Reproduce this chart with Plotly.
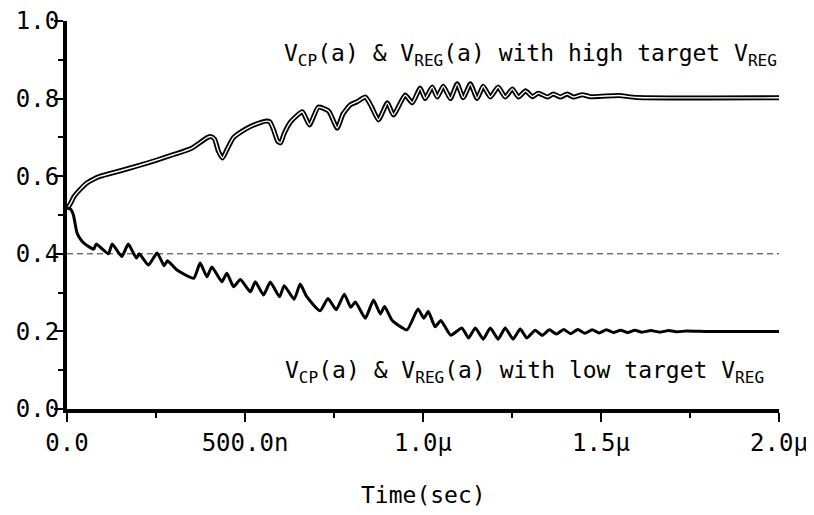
import plotly.graph_objects as go

# time in ns
t_high = [0, 10, 20, 37, 55, 74, 94, 150, 200, 250, 300, 350, 395, 405, 415, 425, 437, 450, 468, 490,
          515, 543, 560, 570, 580, 592, 600, 610, 628, 661, 681, 706, 735, 759, 775, 796, 815, 838, 855,
          875, 900, 917, 950, 970, 992, 1006, 1026, 1040, 1057, 1077, 1096, 1113, 1133, 1152, 1169, 1189,
          1211, 1231, 1251, 1268, 1288, 1307, 1324, 1350, 1366, 1386, 1405, 1422, 1447, 1470, 1500, 1550,
          1600, 2000]
v_high = [0.515, 0.530, 0.548, 0.566, 0.582, 0.592, 0.600, 0.614, 0.627, 0.641, 0.656, 0.672, 0.700, 0.702,
          0.695, 0.665, 0.647, 0.670, 0.700, 0.715, 0.728, 0.738, 0.742, 0.740, 0.720, 0.690, 0.686, 0.710,
          0.740, 0.766, 0.732, 0.778, 0.768, 0.724, 0.760, 0.784, 0.792, 0.804, 0.780, 0.745, 0.789, 0.758,
          0.809, 0.789, 0.827, 0.800, 0.830, 0.804, 0.832, 0.800, 0.838, 0.802, 0.838, 0.800, 0.832, 0.804,
          0.830, 0.804, 0.825, 0.804, 0.820, 0.805, 0.814, 0.804, 0.812, 0.804, 0.812, 0.804, 0.810, 0.805,
          0.806, 0.808, 0.803, 0.802]

t_low = [0, 10, 18, 28, 40, 51, 75, 82, 116, 127, 154, 172, 195, 203, 229, 253, 273, 282, 309, 356, 374,
         393, 407, 435, 449, 468, 487, 515, 529, 552, 571, 597, 610, 638, 655, 673, 711, 733, 756, 779, 797,
         810, 838, 861, 880, 892, 913, 955, 986, 1002, 1015, 1034, 1050, 1078, 1109, 1128, 1147, 1169, 1189,
         1211, 1231, 1253, 1273, 1292, 1315, 1335, 1355, 1375, 1395, 1415, 1435, 1455, 1475, 1495, 1515,
         1535, 1555, 1575, 1595, 1615, 1640, 1665, 1690, 1715, 1740, 1800, 2000]
v_low = [0.518, 0.515, 0.500, 0.454, 0.435, 0.425, 0.412, 0.425, 0.400, 0.425, 0.393, 0.425, 0.389, 0.400,
         0.371, 0.402, 0.369, 0.382, 0.358, 0.337, 0.376, 0.341, 0.366, 0.328, 0.350, 0.315, 0.334, 0.302,
         0.328, 0.294, 0.327, 0.289, 0.318, 0.283, 0.322, 0.290, 0.253, 0.285, 0.256, 0.296, 0.262, 0.276,
         0.234, 0.281, 0.245, 0.264, 0.229, 0.204, 0.258, 0.234, 0.251, 0.212, 0.228, 0.190, 0.209, 0.183,
         0.209, 0.180, 0.209, 0.180, 0.209, 0.180, 0.206, 0.183, 0.203, 0.190, 0.204, 0.193, 0.205, 0.194,
         0.205, 0.195, 0.204, 0.196, 0.204, 0.197, 0.203, 0.197, 0.203, 0.198, 0.202, 0.198, 0.202, 0.199,
         0.201, 0.200, 0.200]

ref_level = 0.4
x_tick_vals = [0, 500, 1000, 1500, 2000]
x_tick_text = ["0.0", "500.0n", "1.0\u00b5", "1.5\u00b5", "2.0\u00b5"]
x_minor_vals = [250, 750, 1250, 1750]

FONT = "DejaVu Sans Mono"

fig = go.Figure()
fig.add_trace(go.Scatter(x=[0, 2000], y=[ref_level, ref_level], mode="lines",
                         line=dict(color="#333", width=1, dash="6px,4px"), hoverinfo="skip"))
fig.add_trace(go.Scatter(x=t_high, y=v_high, mode="lines",
                         line=dict(color="black", width=5, shape="spline", smoothing=0.5)))
fig.add_trace(go.Scatter(x=t_high, y=v_high, mode="lines",
                         line=dict(color="white", width=1.4, shape="spline", smoothing=0.5)))
fig.add_trace(go.Scatter(x=t_low, y=v_low, mode="lines",
                         line=dict(color="black", width=3, shape="spline", smoothing=0.5)))

fig.add_annotation(x=2000, y=0.912, xref="x", yref="y", xanchor="right", yanchor="middle",
                   text="V<sub>CP</sub>(a) & V<sub>REG</sub>(a) with high target V<sub>REG</sub>",
                   showarrow=False, font=dict(family=FONT, size=23, color="black"))
fig.add_annotation(x=608, y=0.095, xref="x", yref="y", xanchor="left", yanchor="middle",
                   text="V<sub>CP</sub>(a) & V<sub>REG</sub>(a) with low target V<sub>REG</sub>",
                   showarrow=False, font=dict(family=FONT, size=23, color="black"))
fig.add_annotation(x=1000, y=-0.222, xref="x", yref="paper", xanchor="center", yanchor="middle",
                   text="Time(sec)", showarrow=False, font=dict(family=FONT, size=23, color="black"))

fig.update_layout(
    width=814, height=515, showlegend=False,
    paper_bgcolor="white", plot_bgcolor="white",
    margin=dict(l=59, r=43, t=13, b=114),
    font=dict(family=FONT, size=24, color="black"),
)
fig.update_xaxes(range=[0, 2000], automargin=False, showgrid=False, zeroline=False, showline=True,
                 linewidth=4, linecolor="black", ticks="outside", ticklen=9, tickwidth=1.5,
                 tickcolor="black", tickmode="array", tickvals=x_tick_vals, ticktext=x_tick_text,
                 ticklabeloverflow="allow",
                 minor=dict(tickmode="array", tickvals=x_minor_vals, ticks="outside", ticklen=5,
                            tickwidth=1.5, tickcolor="black", showgrid=False))
fig.update_yaxes(range=[0, 1.0], automargin=False, showgrid=False, zeroline=False, showline=True,
                 linewidth=4, linecolor="black", ticks="outside", ticklen=9, tickwidth=1.5,
                 tickcolor="black", dtick=0.2, tick0=0, tickformat=".1f", ticklabelstandoff=-10,
                 ticklabeloverflow="allow",
                 minor=dict(dtick=0.1, ticks="outside", ticklen=5, tickwidth=1.5, tickcolor="black",
                            showgrid=False))

fig.write_html("out.html")
